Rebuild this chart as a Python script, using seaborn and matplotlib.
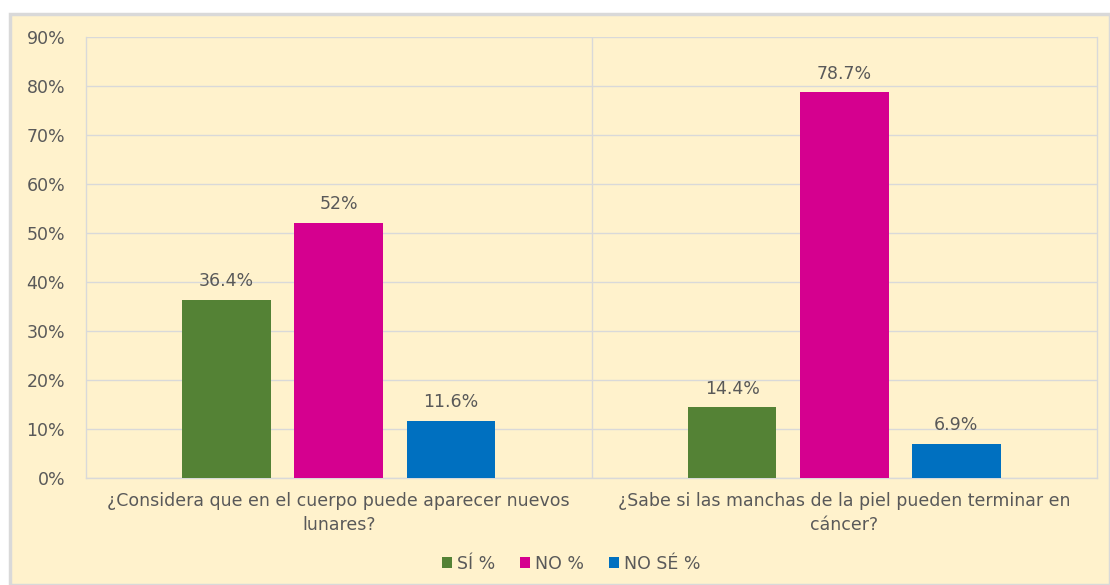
import matplotlib
matplotlib.use("Agg")
import matplotlib.pyplot as plt
import matplotlib.patches as mpatches
import seaborn as sns
import pandas as pd
from matplotlib.ticker import FuncFormatter

# Survey questions (x categories) and answer series
questions = [
    "¿Considera que en el cuerpo puede aparecer nuevos\nlunares?",
    "¿Sabe si las manchas de la piel pueden terminar en\ncáncer?",
]
series = ["SÍ %", "NO %", "NO SÉ %"]
si_values = [36.4, 14.4]
no_values = [52.0, 78.7]
nose_values = [11.6, 6.9]
value_labels = {
    "SÍ %": ["36.4%", "14.4%"],
    "NO %": ["52%", "78.7%"],
    "NO SÉ %": ["11.6%", "6.9%"],
}
yticks = [0, 10, 20, 30, 40, 50, 60, 70, 80, 90]

colors = ["#548235", "#D5008F", "#0070C0"]
bg = "#FFF2CC"
grid_c = "#D9D9D9"
text_c = "#595959"
fs = 12.5

rows = []
for q, a, b, c in zip(questions, si_values, no_values, nose_values):
    rows.append({"pregunta": q, "serie": series[0], "valor": a})
    rows.append({"pregunta": q, "serie": series[1], "valor": b})
    rows.append({"pregunta": q, "serie": series[2], "valor": c})
df = pd.DataFrame(rows)

sns.set_theme(style="white")
plt.rcParams["font.family"] = ["DejaVu Sans"]

W, H = 1110, 585
fig = plt.figure(figsize=(W / 100, H / 100), dpi=100)
fig.patch.set_facecolor("white")

# Chart area panel
fig.patches.append(mpatches.Rectangle(
    (10 / W, 0), (W - 10) / W, (H - 14) / H, transform=fig.transFigure,
    facecolor=bg, edgecolor=grid_c, linewidth=2.5, zorder=-10))

ax = fig.add_axes([86 / W, 1 - 478 / H, (1097 - 86) / W, (478 - 37) / H])
ax.set_facecolor(bg)

sns.barplot(data=df, x="pregunta", y="valor", hue="serie", hue_order=series,
            palette=colors, width=0.665, gap=0.21, saturation=1, linewidth=0,
            ax=ax, zorder=3, legend=True)

ax.set_xlim(-0.5, 1.5)
ax.set_ylim(0, 90)
ax.set_yticks(yticks)
ax.yaxis.set_major_formatter(FuncFormatter(lambda v, p: f"{int(v)}%"))
ax.grid(axis="y", color=grid_c, linewidth=1, zorder=0)
ax.axvline(0.5, color=grid_c, linewidth=1, zorder=1)
for s in ["right", "left", "bottom"]:
    ax.spines[s].set_visible(True)
    ax.spines[s].set_color(grid_c)
    ax.spines[s].set_linewidth(1)
ax.spines["top"].set_visible(False)
ax.tick_params(axis="both", length=0, colors=text_c, labelsize=fs)
ax.tick_params(axis="y", pad=15)
ax.tick_params(axis="x", pad=10)
ax.set_xlabel("")
ax.set_ylabel("")
for lbl in ax.get_xticklabels():
    lbl.set_color(text_c)
    lbl.set_linespacing(1.45)

for cont, s in zip(ax.containers, series):
    ax.bar_label(cont, labels=value_labels[s], padding=7, color=text_c, fontsize=fs)

leg = ax.legend(loc="center", bbox_to_anchor=(0.48, -0.195), ncol=3, frameon=False,
                fontsize=fs, handlelength=0.6, handleheight=0.6, handletextpad=0.3,
                columnspacing=1.4, labelcolor=text_c)

fig.savefig("out.png", dpi=100, facecolor=fig.get_facecolor())
